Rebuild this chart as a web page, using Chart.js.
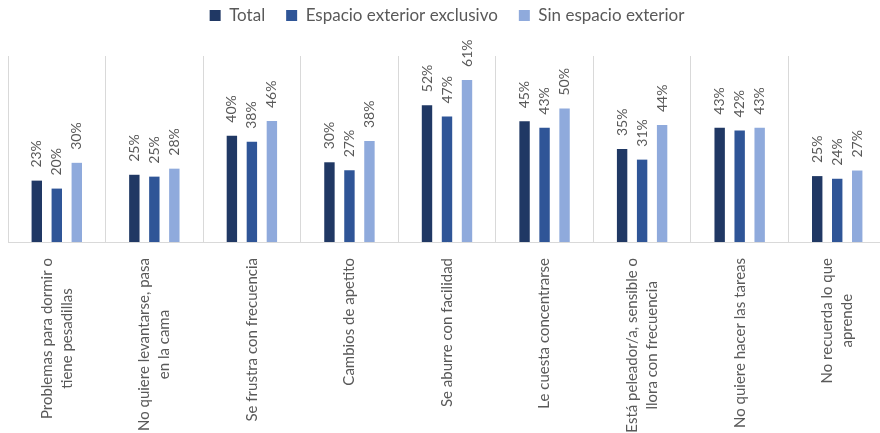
<!DOCTYPE html>
<html>
<head>
<meta charset="utf-8">
<script src="https://cdn.jsdelivr.net/npm/chart.js@4.4.1/dist/chart.umd.min.js"></script>
<style>
  html, body { margin: 0; padding: 0; background: #fff; overflow: hidden; }
  #wrap { width: 894px; height: 433px; position: relative; }
</style>
</head>
<body>
<div id="wrap"><canvas id="chart"></canvas></div>
<script>
// Categories (multi-line labels, as in the original chart)
const categories = [
  ['Problemas para dormir o', 'tiene pesadillas'],
  ['No quiere levantarse, pasa', 'en la cama'],
  ['Se frustra con frecuencia'],
  ['Cambios de apetito'],
  ['Se aburre con facilidad'],
  ['Le cuesta concentrarse'],
  ['Está peleador/a, sensible o', 'llora con frecuencia'],
  ['No quiere hacer las tareas'],
  ['No recuerda lo que', 'aprende'],
];

// Series values (%)
const total = [23.1, 25.3, 40.0, 30, 51.5, 45.4, 35, 43, 24.8];
const espacioExclusivo = [20.1, 24.6, 37.7, 27, 47.2, 43.0, 31, 42, 23.8];
const sinEspacio = [29.8, 27.6, 45.5, 38, 61.0, 50.2, 44, 43, 26.9];

const seriesNames = ['Total', 'Espacio exterior exclusivo', 'Sin espacio exterior'];
const seriesColors = ['#203864', '#2f5597', '#8faadc'];

const FONT = 'Lato, "Liberation Sans", sans-serif';
const TEXT_COLOR = '#595959';

// Extra room between the legend and the plot area
const legendSpacing = {
  id: 'legendSpacing',
  afterInit(chart) {
    const fit = chart.legend.fit;
    chart.legend.fit = function () {
      fit.call(this);
      this.height += 22;
    };
  },
};

// Value labels rotated above each bar
const valueLabels = {
  id: 'valueLabels',
  afterDatasetsDraw(chart) {
    const ctx = chart.ctx;
    ctx.save();
    ctx.font = '14px ' + FONT;
    ctx.fillStyle = TEXT_COLOR;
    ctx.textAlign = 'left';
    ctx.textBaseline = 'middle';
    chart.data.datasets.forEach((ds, i) => {
      const meta = chart.getDatasetMeta(i);
      meta.data.forEach((bar, j) => {
        ctx.save();
        ctx.translate(bar.x, bar.y - 13);
        ctx.rotate(-Math.PI / 2);
        ctx.fillText(Math.round(ds.data[j]) + '%', 0, 0);
        ctx.restore();
      });
    });
    ctx.restore();
  },
};

// Category labels: rotated, lines centered inside the block, block starts under the axis
const categoryLabels = {
  id: 'categoryLabels',
  afterDraw(chart) {
    const ctx = chart.ctx;
    const xScale = chart.scales.x;
    const top = chart.chartArea.bottom + 16;
    const lineHeight = 20;
    ctx.save();
    ctx.font = '15px ' + FONT;
    ctx.fillStyle = TEXT_COLOR;
    ctx.textAlign = 'center';
    ctx.textBaseline = 'middle';
    categories.forEach((lines, i) => {
      const cx = xScale.getPixelForValue(i);
      const w = Math.max(...lines.map((l) => ctx.measureText(l).width));
      lines.forEach((line, k) => {
        ctx.save();
        ctx.translate(cx + (k - (lines.length - 1) / 2) * lineHeight, top + w / 2);
        ctx.rotate(-Math.PI / 2);
        ctx.fillText(line, 0, 0);
        ctx.restore();
      });
    });
    ctx.restore();
  },
};

const datasets = [total, espacioExclusivo, sinEspacio].map((values, i) => ({
  label: seriesNames[i],
  data: values,
  backgroundColor: seriesColors[i],
  categoryPercentage: 0.615,
  barPercentage: 0.52,
}));

new Chart(document.getElementById('chart'), {
  type: 'bar',
  data: {
    labels: categories.map((l) => l.join(' ')),
    datasets: datasets,
  },
  options: {
    responsive: true,
    maintainAspectRatio: false,
    animation: false,
    layout: {
      padding: { left: 8, right: 8, top: -14, bottom: 191 },
    },
    plugins: {
      legend: {
        display: true,
        position: 'top',
        labels: {
          boxWidth: 11,
          boxHeight: 11,
          padding: 21,
          color: TEXT_COLOR,
          font: { family: FONT, size: 17 },
        },
      },
      tooltip: { enabled: false },
    },
    scales: {
      x: {
        offset: true,
        ticks: { display: false },
        grid: {
          offset: true,
          color: '#d9d9d9',
          lineWidth: 1,
          drawTicks: false,
        },
        border: { color: '#d9d9d9' },
      },
      y: {
        display: false,
        min: 0,
        max: 70,
      },
    },
  },
  plugins: [legendSpacing, valueLabels, categoryLabels],
});
</script>
</body>
</html>
